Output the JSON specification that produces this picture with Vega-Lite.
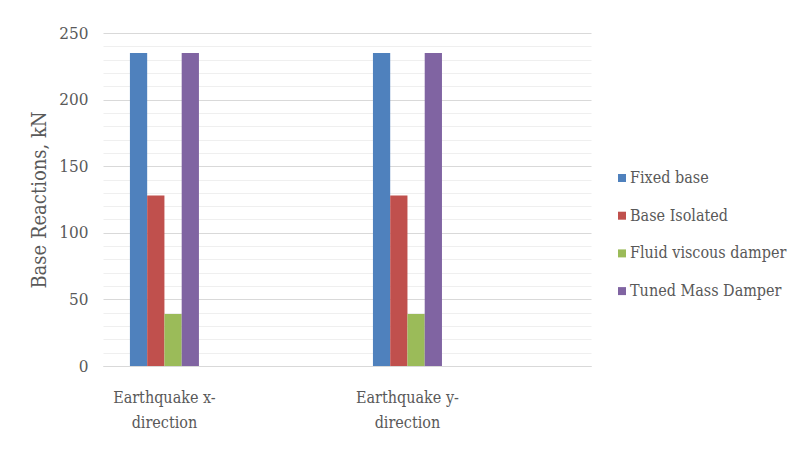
{
  "$schema": "https://vega.github.io/schema/vega-lite/v6.json",
  "autosize": {"type": "none"},
  "padding": {"left": 103, "top": 33, "right": 196, "bottom": 88},
  "width": 488,
  "height": 333,
  "background": "#ffffff",
  "config": {
    "font": "DejaVu Serif Condensed",
    "view": {"stroke": null},
    "axis": {"labelColor": "#595959", "titleColor": "#595959", "labelFont": "DejaVu Serif Condensed", "titleFont": "DejaVu Serif Condensed"},
    "legend": {"labelColor": "#595959", "labelFont": "DejaVu Serif Condensed"}
  },
  "data": {
    "values": [
      {"direction": "Earthquake x-direction", "system": "Fixed base", "reaction": 235},
      {"direction": "Earthquake x-direction", "system": "Base Isolated", "reaction": 128},
      {"direction": "Earthquake x-direction", "system": "Fluid viscous damper", "reaction": 39},
      {"direction": "Earthquake x-direction", "system": "Tuned Mass Damper", "reaction": 235},
      {"direction": "Earthquake y-direction", "system": "Fixed base", "reaction": 235},
      {"direction": "Earthquake y-direction", "system": "Base Isolated", "reaction": 128},
      {"direction": "Earthquake y-direction", "system": "Fluid viscous damper", "reaction": 39},
      {"direction": "Earthquake y-direction", "system": "Tuned Mass Damper", "reaction": 235}
    ]
  },
  "mark": {"type": "bar"},
  "encoding": {
    "x": {
      "field": "direction",
      "type": "nominal",
      "scale": {"paddingInner": 0.716, "paddingOuter": 0.362, "align": 0.153},
      "axis": {
        "title": null,
        "labelAngle": 0,
        "labelFontSize": 16,
        "labelLineHeight": 25,
        "labelPadding": 23,
        "labelExpr": "[slice(datum.value, 0, 13), slice(datum.value, 13)]",
        "ticks": false,
        "domainColor": "#d9d9d9",
        "domainWidth": 1,
        "grid": false
      }
    },
    "xOffset": {
      "field": "system",
      "type": "nominal",
      "sort": ["Fixed base", "Base Isolated", "Fluid viscous damper", "Tuned Mass Damper"],
      "scale": {"paddingInner": 0, "paddingOuter": 0}
    },
    "y": {
      "field": "reaction",
      "type": "quantitative",
      "scale": {"domain": [0, 250], "nice": false},
      "axis": {
        "title": "Base Reactions, kN",
        "titleFontSize": 20,
        "titleFontWeight": "normal",
        "titlePadding": 9,
        "labelFontSize": 17,
        "labelPadding": 15,
        "values": [0, 10, 20, 30, 40, 50, 60, 70, 80, 90, 100, 110, 120, 130, 140, 150, 160, 170, 180, 190, 200, 210, 220, 230, 240, 250],
        "labelExpr": "datum.value % 50 === 0 ? datum.label : ''",
        "domain": false,
        "ticks": false,
        "gridColor": {"condition": {"test": "datum.value % 50 === 0", "value": "#d9d9d9"}, "value": "#efefef"},
        "gridWidth": 1
      }
    },
    "color": {
      "field": "system",
      "type": "nominal",
      "sort": ["Fixed base", "Base Isolated", "Fluid viscous damper", "Tuned Mass Damper"],
      "scale": {"range": ["#4f81bd", "#c0504d", "#9bbb59", "#8064a2"]},
      "legend": {
        "title": null,
        "orient": "none",
        "legendX": 511,
        "legendY": 137,
        "symbolType": "square",
        "symbolSize": 64,
        "symbolStrokeWidth": 0,
        "labelFontSize": 16,
        "labelOffset": 0,
        "rowPadding": 21.7,
        "labelLimit": 200
      }
    }
  }
}
